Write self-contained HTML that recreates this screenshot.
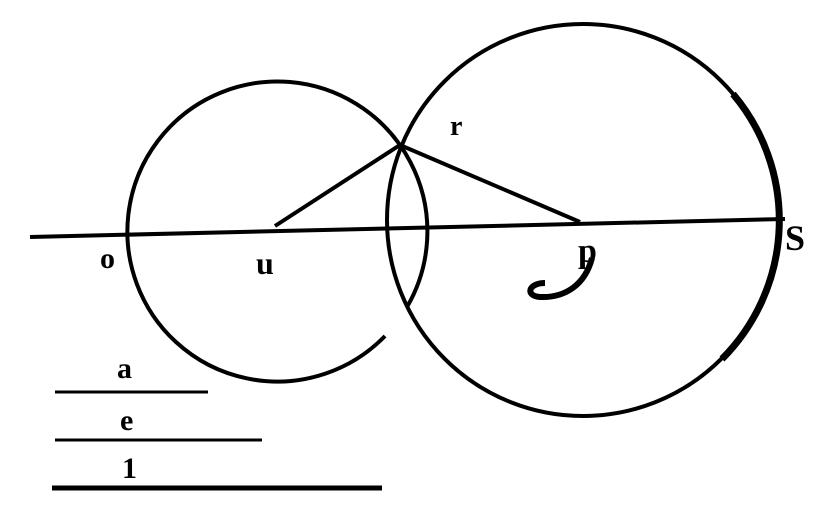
<!DOCTYPE html>
<html><head><style>body{margin:0;background:#fff}</style></head><body>
<svg width="840" height="527" viewBox="0 0 840 527" xmlns="http://www.w3.org/2000/svg">
<rect width="840" height="527" fill="#fff"/>
<g fill="none" stroke="#000" stroke-width="4">
<path d="M385 336 A150 150 0 1 1 407 307"/>
<circle cx="583" cy="220" r="196"/>
<path d="M733 94 A196 196 0 0 1 722 359" stroke-width="7"/>
<line x1="30" y1="237" x2="785" y2="219"/>
<polyline points="275,226 400,145 580,222"/>
<line x1="55" y1="392" x2="208" y2="392" stroke-width="3"/>
<line x1="55" y1="440" x2="262" y2="440" stroke-width="3"/>
<line x1="52" y1="488" x2="382" y2="488" stroke-width="5"/>
<path d="M592 258 C585 285 565 298 540 297 C525 296 528 283 545 283" stroke-width="6"/>
</g>
<g font-family="Liberation Serif, serif" font-weight="bold" fill="#000">
<text x="100" y="268" font-size="30">o</text>
<text x="256" y="274" font-size="32">u</text>
<text x="578" y="262" font-size="34">p</text>
<text x="450" y="135" font-size="28">r</text>
<text x="785" y="250" font-size="36">S</text>
<text x="117" y="378" font-size="30">a</text>
<text x="120" y="430" font-size="30">e</text>
<text x="122" y="478" font-size="30">1</text>
</g>
</svg>
</body></html>
